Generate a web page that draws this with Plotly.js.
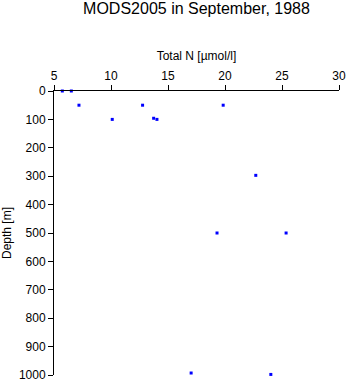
<!DOCTYPE html>
<html>
<head>
<meta charset="utf-8">
<script src="https://cdn.plot.ly/plotly-3.0.1.min.js"></script>
<style>html,body{margin:0;padding:0;background:#fff;}#chart{width:348px;height:384px;}</style>
</head>
<body>
<div id="chart"></div>
<script>
// Total N [µmol/l] values and their depths [m]
const totalN = [5.73, 6.52, 7.19, 12.77, 19.84, 10.11, 13.74, 14.03, 22.7, 19.3, 25.36, 17.03, 24.02];
const depth  = [0, 0, 50, 50, 50, 100, 96, 100, 297, 500, 500, 993, 998];
const xTicks = [5, 10, 15, 20, 25, 30];
const yTicks = [0, 100, 200, 300, 400, 500, 600, 700, 800, 900, 1000];

const font = {family: 'Liberation Sans, Arial, sans-serif', color: '#000'};

Plotly.newPlot('chart', [{
  x: totalN, y: depth, type: 'scatter', mode: 'markers',
  marker: {symbol: 'square', size: 3, color: '#0000ff', line: {width: 0}},
  cliponaxis: false, hoverinfo: 'none'
}], {
  width: 348, height: 384,
  margin: {l: 54, r: 9, t: 91, b: 9},
  paper_bgcolor: '#fff', plot_bgcolor: '#fff',
  showlegend: false,
  font: Object.assign({size: 12}, font),
  title: {text: 'MODS2005 in September, 1988', font: Object.assign({size: 16}, font),
          x: 0.5, xref: 'paper', xanchor: 'center', y: 0.979, yref: 'container', yanchor: 'middle'},
  xaxis: {
    side: 'top', range: [5, 30], tickvals: xTicks, ticktext: xTicks.map(String),
    showgrid: false, zeroline: false, showline: true, linecolor: '#000', linewidth: 1,
    ticks: 'outside', ticklen: 5, tickcolor: '#000', tickwidth: 1,
    tickfont: Object.assign({size: 12}, font),
    title: {text: 'Total N [µmol/l]', font: Object.assign({size: 12}, font), standoff: 6}
  },
  yaxis: {
    range: [1000, 0], tickvals: yTicks, ticktext: yTicks.map(String),
    showgrid: false, zeroline: false, showline: true, linecolor: '#000', linewidth: 1,
    ticks: 'outside', ticklen: 5, tickcolor: '#000', tickwidth: 1,
    tickfont: Object.assign({size: 12}, font),
    title: {text: 'Depth [m]', font: Object.assign({size: 12}, font), standoff: 8}
  }
}, {staticPlot: true});
</script>
</body>
</html>
